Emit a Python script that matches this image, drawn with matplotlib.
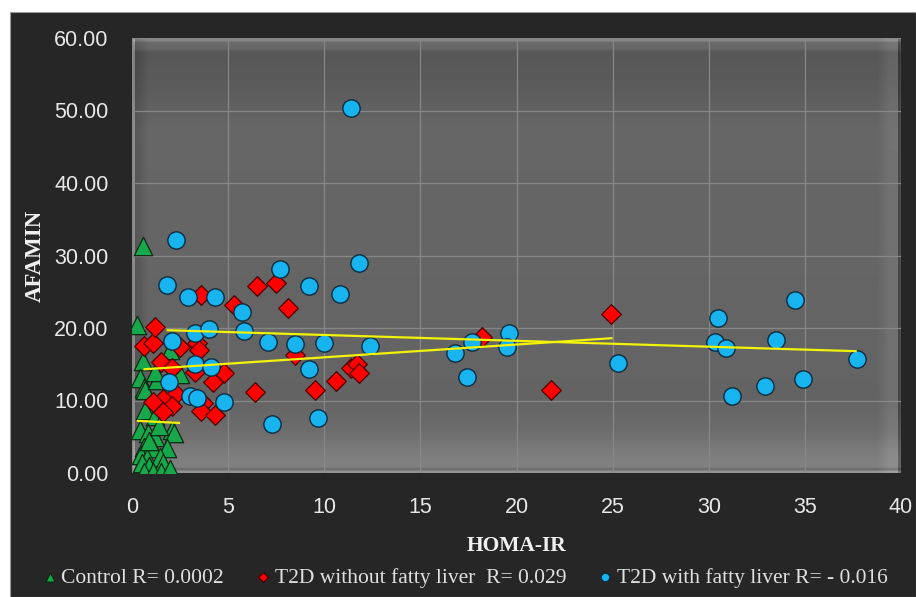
import numpy as np
import matplotlib
matplotlib.use("Agg")
import matplotlib.pyplot as plt
from matplotlib.patches import Rectangle
from matplotlib.ticker import FormatStrFormatter, MultipleLocator

# HOMA-IR vs AFAMIN per group
control_x = [0.55, 0.25, 2.0, 0.55, 0.4, 0.6, 0.7, 2.5, 1.3, 1.2, 0.7, 1.2, 0.4, 0.85,
             2.1, 2.2, 1.2, 0.6, 1.1, 1.8, 0.45, 0.8, 1.45, 1.6, 0.5, 0.9, 0.6, 1.1,
             1.5, 2.0, 0.9, 1.4]
control_y = [31.3, 20.4, 17.0, 15.4, 13.1, 11.7, 11.4, 13.6, 12.8, 13.9, 8.7, 7.8, 5.9, 5.5,
             5.9, 5.5, 5.0, 3.6, 3.4, 3.5, 2.5, 2.1, 2.2, 1.4, 1.4, 0.9, 0.2, 0.2,
             0.2, 0.6, 4.4, 6.5]

nofat_x = [0.6, 1.1, 1.2, 1.5, 2.1, 2.5, 3.4, 3.5, 3.3, 4.2, 4.8, 2.3, 1.6, 1.1, 2.1, 1.6,
           3.7, 3.6, 4.3, 3.6, 5.3, 6.5, 7.5, 8.1, 8.5, 6.4, 9.5, 10.6, 11.4, 11.7, 11.8,
           18.2, 21.8, 24.9]
nofat_y = [17.5, 18.0, 20.1, 15.3, 14.5, 17.4, 18.0, 17.0, 14.0, 12.6, 13.8, 10.9, 10.2, 9.8,
           9.2, 8.4, 9.6, 8.5, 8.0, 24.5, 23.2, 25.8, 26.2, 22.8, 16.3, 11.2, 11.5, 12.7,
           14.5, 15.0, 13.8, 18.7, 11.4, 22.0]

fat_x = [11.4, 2.3, 1.8, 2.9, 4.3, 7.7, 9.2, 10.8, 11.8, 5.7, 3.3, 4.0, 5.8, 2.1, 7.1, 8.5,
         10.0, 12.4, 3.3, 4.1, 9.2, 1.9, 3.0, 3.4, 4.8, 7.3, 9.7, 17.7, 16.8, 19.6, 19.5,
         17.4, 25.3, 34.5, 30.5, 30.3, 30.9, 33.5, 37.7, 34.9, 32.9, 31.2]
fat_y = [50.3, 32.1, 25.9, 24.3, 24.3, 28.1, 25.8, 24.7, 29.0, 22.2, 19.3, 19.9, 19.6, 18.2,
         18.1, 17.8, 17.9, 17.5, 15.0, 14.6, 14.3, 12.6, 10.6, 10.4, 9.8, 6.8, 7.6, 18.1,
         16.6, 19.3, 17.4, 13.3, 15.2, 23.9, 21.4, 18.1, 17.2, 18.3, 15.7, 13.0, 12.0, 10.6]

# linear trend lines (start/end)
control_trend_x = [0.25, 2.5]
control_trend_y = [7.2, 6.9]
nofat_trend_x = [0.6, 25.0]
nofat_trend_y = [14.3, 18.6]
fat_trend_x = [1.8, 37.7]
fat_trend_y = [19.7, 16.8]

labels = ["Control R= 0.0002", "T2D without fatty liver  R= 0.029",
          "T2D with fatty liver R= - 0.016"]

W, H = 916, 597
fig = plt.figure(figsize=(W / 100, H / 100), dpi=100, facecolor="white")

# dark chart area behind everything
fig.patches.append(Rectangle((10 / W, 0), 1 - 10 / W, (H - 12) / H, transform=fig.transFigure,
                             facecolor="#262626", edgecolor="#9a9a9a", lw=0.8, zorder=-10))

ax = fig.add_axes([132 / W, 1 - 473 / H, (901 - 132) / W, (473 - 38) / H])
ax.set_facecolor("#676767")

# plot area shading
ph, pw = 435, 769
rows = np.arange(ph)
cols = np.arange(pw)
vprof = np.interp(rows, [0, 2, 4, 10, 14, 50, 90, 360, 395, 415, 428, 431, 433, 435],
                  [0.52, 0.52, 0.42, 0.40, 0.34, 0.36, 0.40, 0.39, 0.43, 0.49, 0.50, 0.42, 0.58, 0.58])
hdelta = np.interp(cols, [0, 2, 3, 8, 16, 745, 757, 765, 766, 769],
                   [0.15, 0.15, -0.06, -0.04, 0.0, 0.0, 0.05, 0.05, -0.12, -0.12])
img = np.clip(vprof[:, None] + hdelta[None, :], 0, 1)
ax.imshow(img, cmap="gray", vmin=0, vmax=1, extent=(0, 1, 0, 1), transform=ax.transAxes,
          aspect="auto", zorder=0, interpolation="bilinear")

ax.set_xlim(0, 40)
ax.set_ylim(0, 60)
ax.xaxis.set_major_locator(MultipleLocator(5))
ax.yaxis.set_major_locator(MultipleLocator(10))
ax.yaxis.set_major_formatter(FormatStrFormatter("%.2f"))
ax.grid(True, color="#878787", lw=0.9)
ax.set_axisbelow(True)
for s in ax.spines.values():
    s.set_visible(False)
ax.tick_params(length=0, colors="#e8e8e8", labelsize=15.5)
ax.tick_params(axis="y", pad=17)
ax.tick_params(axis="x", pad=17)
for t in ax.get_xticklabels() + ax.get_yticklabels():
    t.set_fontfamily("Liberation Sans")

sc_c = ax.scatter(control_x, control_y, marker="^", s=175, c="#17a84b", edgecolors="#0b2a12",
                  linewidths=0.9, zorder=2)
sc_n = ax.scatter(nofat_x, nofat_y, marker="D", s=100, c="#ff0000", edgecolors="#4a0000",
                  linewidths=0.9, zorder=2)
sc_f = ax.scatter(fat_x, fat_y, marker="o", s=155, c="#18b4ef", edgecolors="#0a2b3f",
                  linewidths=1.0, zorder=2)

for tx, ty in [(control_trend_x, control_trend_y), (nofat_trend_x, nofat_trend_y),
               (fat_trend_x, fat_trend_y)]:
    ax.plot(tx, ty, color="#f2f20a", lw=1.6, zorder=3, solid_capstyle="butt")

ax.set_xlabel("HOMA-IR", fontfamily="Liberation Serif", fontweight="bold", fontsize=15.5,
              color="#f0f0f0", labelpad=13)
ax.set_ylabel("AFAMIN", fontfamily="Liberation Serif", fontweight="bold", fontsize=16.5,
              color="#f0f0f0", labelpad=6)

leg = fig.legend([sc_c, sc_n, sc_f], labels, loc="center", bbox_to_anchor=(0.508, 0.032),
                 ncol=3, frameon=False, markerscale=0.5, handlelength=0.6, handletextpad=0.25,
                 columnspacing=1.5, prop={"family": "Liberation Serif", "size": 15.5})
for t in leg.get_texts():
    t.set_color("#e0e0e0")

fig.savefig("out.png", dpi=100, facecolor="white")
